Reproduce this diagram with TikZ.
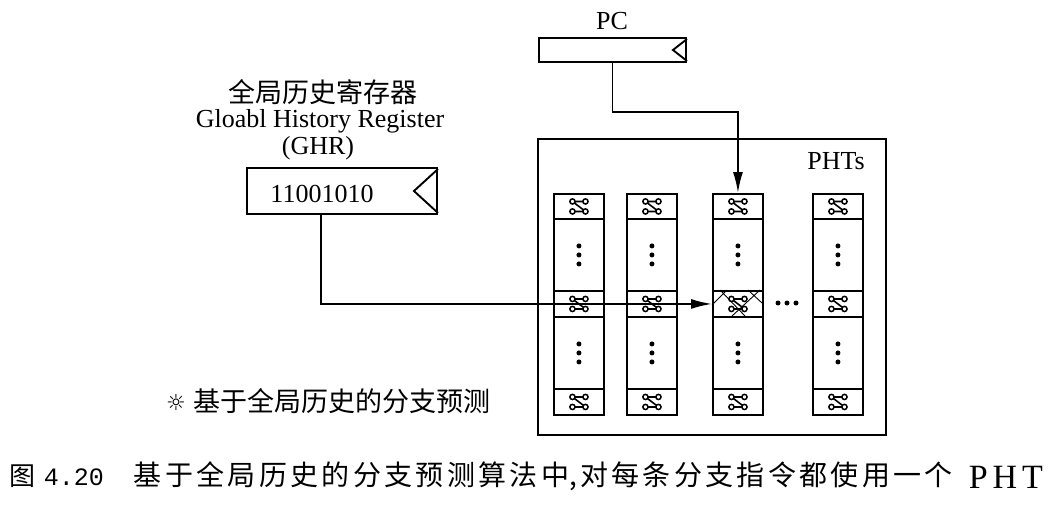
\documentclass[tikz,border=0pt]{standalone}
\usepackage{fontspec}
\setmainfont{Liberation Serif}
\newfontfamily\cjk{Noto Sans CJK SC}
\newfontfamily\symfont{DejaVu Sans}
\newfontfamily\monofont{Liberation Mono}
\usetikzlibrary{arrows.meta,calc}
\begin{document}
\begin{tikzpicture}[x=1pt,y=-1pt,line width=1.9pt,
  lbl/.style={inner sep=0pt,font=\fontsize{26}{30}\selectfont},
  cjklbl/.style={inner sep=0pt,font=\fontsize{27}{30}\selectfont\cjk},
  cell/.style={draw,inner sep=0pt,minimum width=50pt,minimum height=#1,anchor=north west},
  arr/.style={-{Latex[length=21pt,width=10pt]}},
  ctr/.pic={
    \draw[line width=1.6pt] (-6.5,-5) -- (6.5,-5) (-6.5,-5) -- (6.5,5) (-6.5,5) -- (6.5,5);
    \foreach \p in {(-6.5,-5),(6.5,-5),(-6.5,5),(6.5,5)}
      \draw[line width=1.5pt,fill=white] \p circle (2.6pt);
  },
  vdots/.pic={
    \foreach \d in {-9,0,9} \fill (0,\d) circle (2.5pt);
  }
]
\useasboundingbox (0,0) rectangle (1054,508);

% PC register
\node[lbl] (pclbl) at (612,21) {PC};
\node[draw,inner sep=0pt,minimum width=147pt,minimum height=24pt] (pc) at (612.5,50) {};
\draw ([yshift=-2pt]pc.north east) -- ([xshift=-14pt]pc.east) -- ([yshift=2pt]pc.south east);

% GHR
\node[cjklbl] (t1) at (323,92) {全局历史寄存器};
\node[lbl] (t2) at (320,121) {Gloabl History Register};
\node[lbl] (t3) at (318,148) {(GHR)};
\node[draw,inner sep=0pt,minimum width=190pt,minimum height=46pt] (ghr) at (342,191) {};
\node[lbl] (ghrval) at (322,194) {11001010};
\draw ([yshift=-2pt]ghr.north east) -- ([xshift=-24pt]ghr.east) -- ([yshift=2pt]ghr.south east);
\coordinate (ghrout) at ($(ghr.south west)+(75,0)$);

% PHT box
\node[draw,inner sep=0pt,minimum width=348pt,minimum height=296pt,anchor=north west] (phtbox) at (537,138) {};
\node[lbl] (phtlbl) at (836,161) {PHTs};

% columns
\foreach \i/\x in {1/553,2/626,3/712,4/812}{
  \node[cell=25pt] (col\i-a) at (\x,193) {};
  \node[cell=72pt] (col\i-d) at (\x,218) {};
  \node[cell=26pt] (col\i-b) at (\x,290) {};
  \node[cell=72pt] (col\i-e) at (\x,316) {};
  \node[cell=26pt] (col\i-c) at (\x,388) {};
  \pic at (col\i-a.center) {ctr};
  \pic at (col\i-b.center) {ctr};
  \pic at (col\i-c.center) {ctr};
  \pic at (col\i-d.center) {vdots};
  \pic at (col\i-e.center) {vdots};
}
% highlighted entry
\draw[line width=0.9pt] (720,290) -- (745,316) (760,290) -- (732,316)
  (712,305) -- (727,290) (748,290) -- (762,303);
% horizontal ellipsis
\foreach \x in {778,787,796} \fill (\x,303) circle (2.5pt);

% connectors
\draw[arr] (pc.south) -- ++(0,49) -| (col3-a.north);
\draw[arr] (ghrout) |- (col3-b.west);

% subtitle
\node[inner sep=0pt,font=\fontsize{22}{24}\selectfont\symfont] (sun) at (176,402) {☼};
\node[cjklbl,anchor=west] (sub) at (193,401) {基于全局历史的分支预测};

% caption
\node[inner sep=0pt,anchor=west,font=\fontsize{26}{30}\selectfont\cjk] (fig) at (9,476) {图};
\node[inner sep=0pt,anchor=west,font=\fontsize{25}{30}\selectfont\monofont] (num) at (43,477) {4.20};
\node[inner sep=0pt,anchor=west,font=\fontsize{28}{30}\selectfont\cjk] (cap) at (133,476) {\makebox[819pt][s]{基\hfill 于\hfill 全\hfill 局\hfill 历\hfill 史\hfill 的\hfill 分\hfill 支\hfill 预\hfill 测\hfill 算\hfill 法\hfill 中,\hfill 对\hfill 每\hfill 条\hfill 分\hfill 支\hfill 指\hfill 令\hfill 都\hfill 使\hfill 用\hfill 一\hfill 个}};
\node[inner sep=0pt,anchor=west,font=\fontsize{34}{36}\selectfont] (pht) at (968,477) {\makebox[74pt][s]{P\hfill H\hfill T}};
\end{tikzpicture}
\end{document}
